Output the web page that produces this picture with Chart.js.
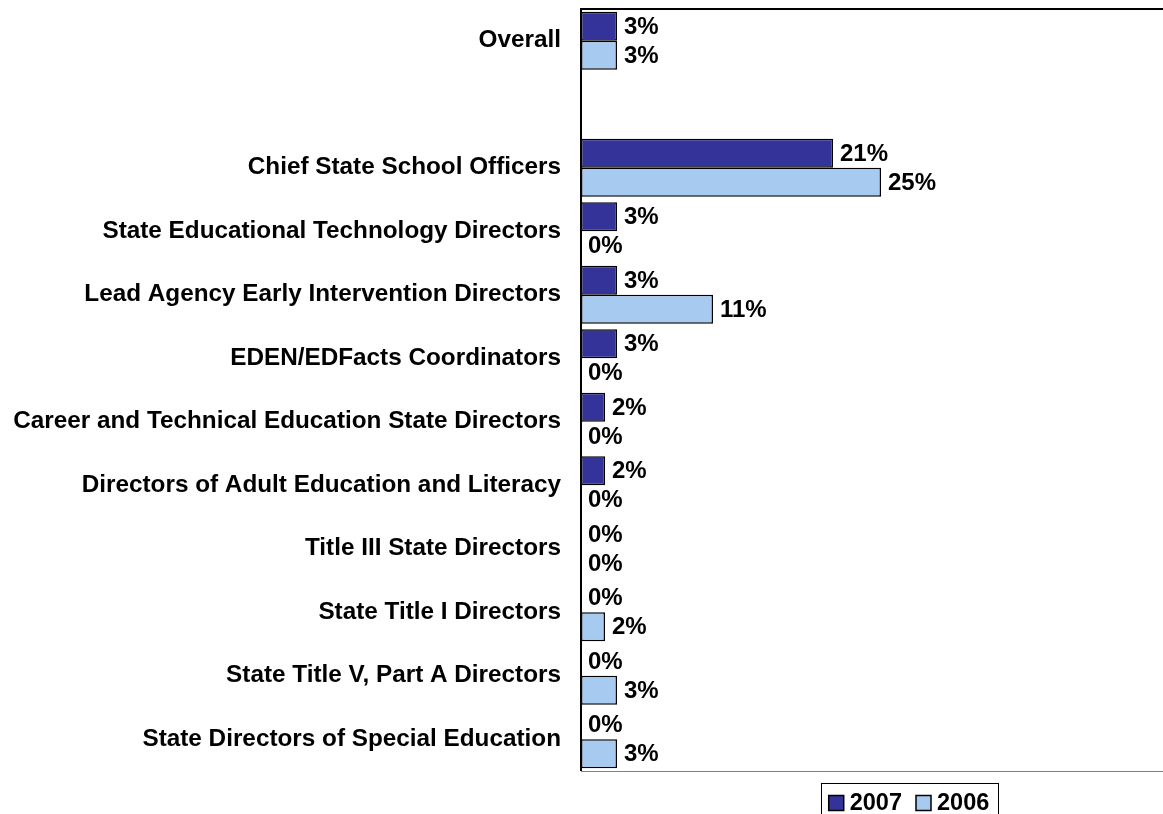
<!DOCTYPE html>
<html>
<head>
<meta charset="utf-8">
<script src="https://cdn.jsdelivr.net/npm/chart.js@4.4.1/dist/chart.umd.min.js"></script>
<style>
  html, body { margin: 0; padding: 0; background: #fff; }
  #chart { display: block; }
</style>
</head>
<body>
<canvas id="chart" width="1163" height="814"></canvas>
<script>
// Survey groups, top to bottom; the blank entry leaves a gap under "Overall"
const groups = [
  'Overall',
  '',
  'Chief State School Officers',
  'State Educational Technology Directors',
  'Lead Agency Early Intervention Directors',
  'EDEN/EDFacts Coordinators',
  'Career and Technical Education State Directors',
  'Directors of Adult Education and Literacy',
  'Title III State Directors',
  'State Title I Directors',
  'State Title V, Part A Directors',
  'State Directors of Special Education'
];
const pct2007 = [3, null, 21, 3, 3, 3, 2, 2, 0, 0, 0, 0];
const pct2006 = [3, null, 25, 0, 11, 0, 0, 0, 0, 2, 3, 3];
const xMax = 48.5;

const FONT = '"Liberation Sans", Arial, sans-serif';
const DARK = '#333399';
const LIGHT = '#A6CAF0';

// value labels just right of each bar end
const valueLabels = {
  id: 'valueLabels',
  afterDatasetsDraw(chart) {
    const ctx = chart.ctx;
    ctx.save();
    ctx.font = 'bold 24px ' + FONT;
    ctx.fillStyle = '#000';
    ctx.textAlign = 'left';
    ctx.textBaseline = 'middle';
    chart.data.datasets.forEach((ds, i) => {
      chart.getDatasetMeta(i).data.forEach((bar, j) => {
        const v = ds.data[j];
        if (v === null) return;
        ctx.fillText(v + '%', bar.x + 7, bar.y + 1);
      });
    });
    ctx.restore();
  }
};

// plot frame: black top and left, grey bottom
const frame = {
  id: 'frame',
  afterDraw(chart) {
    const { ctx, chartArea: a } = chart;
    ctx.save();
    ctx.strokeStyle = '#000';
    ctx.lineWidth = 2;
    ctx.beginPath();
    ctx.moveTo(a.left, a.bottom);
    ctx.lineTo(a.left, a.top);
    ctx.lineTo(a.right, a.top);
    ctx.stroke();
    ctx.strokeStyle = '#808080';
    ctx.lineWidth = 1;
    ctx.beginPath();
    ctx.moveTo(a.left, a.bottom + 0.5);
    ctx.lineTo(a.right, a.bottom + 0.5);
    ctx.stroke();
    ctx.restore();
  }
};

// boxed legend under the plot
const boxLegend = {
  id: 'boxLegend',
  afterDraw(chart) {
    const ctx = chart.ctx;
    const sq = 15, gapSq = 6, gapItem = 14, pad = 8;
    ctx.save();
    ctx.font = 'bold 23.5px ' + FONT;
    const items = chart.data.datasets.map(ds => ({
      text: ds.label, color: ds.backgroundColor, w: ctx.measureText(ds.label).width
    }));
    let total = pad * 2 + gapItem * (items.length - 1);
    items.forEach(it => { total += sq + gapSq + it.w; });
    const left = 909 - total / 2, top = 783.5, cy = 803;
    ctx.strokeStyle = '#000';
    ctx.lineWidth = 1;
    ctx.strokeRect(Math.round(left) + 0.5, top, Math.round(total), 40);
    let x = left + pad;
    items.forEach(it => {
      ctx.fillStyle = it.color;
      ctx.fillRect(x, cy - sq / 2, sq, sq);
      ctx.lineWidth = 1.5;
      ctx.strokeRect(x, cy - sq / 2, sq, sq);
      x += sq + gapSq;
      ctx.fillStyle = '#000';
      ctx.textBaseline = 'middle';
      ctx.fillText(it.text, x, cy + 1);
      x += it.w + gapItem;
    });
    ctx.restore();
  }
};

const barBorder = c => (c.raw ? 1.5 : 0);

new Chart(document.getElementById('chart'), {
  type: 'bar',
  data: {
    labels: groups,
    datasets: [
      { label: '2007', data: pct2007, backgroundColor: DARK, borderColor: '#000', borderWidth: barBorder, borderSkipped: false },
      { label: '2006', data: pct2006, backgroundColor: LIGHT, borderColor: '#000', borderWidth: barBorder, borderSkipped: false }
    ]
  },
  options: {
    indexAxis: 'y',
    responsive: false,
    animation: false,
    categoryPercentage: 0.913,
    barPercentage: 1,
    layout: { padding: { top: 9, bottom: 43, left: 0, right: 0 } },
    plugins: { legend: { display: false }, tooltip: { enabled: false } },
    scales: {
      x: { display: false, min: 0, max: xMax },
      y: {
        grid: { display: false, drawTicks: false },
        border: { display: false },
        ticks: {
          autoSkip: false,
          padding: 20,
          color: '#000',
          font: { family: FONT, size: 24.3, weight: 'bold' }
        },
        afterFit(scale) {
          scale.width = 581;
          scale.paddingTop = 0;
          scale.paddingBottom = 0;
        }
      }
    }
  },
  plugins: [valueLabels, frame, boxLegend]
});
</script>
</body>
</html>
